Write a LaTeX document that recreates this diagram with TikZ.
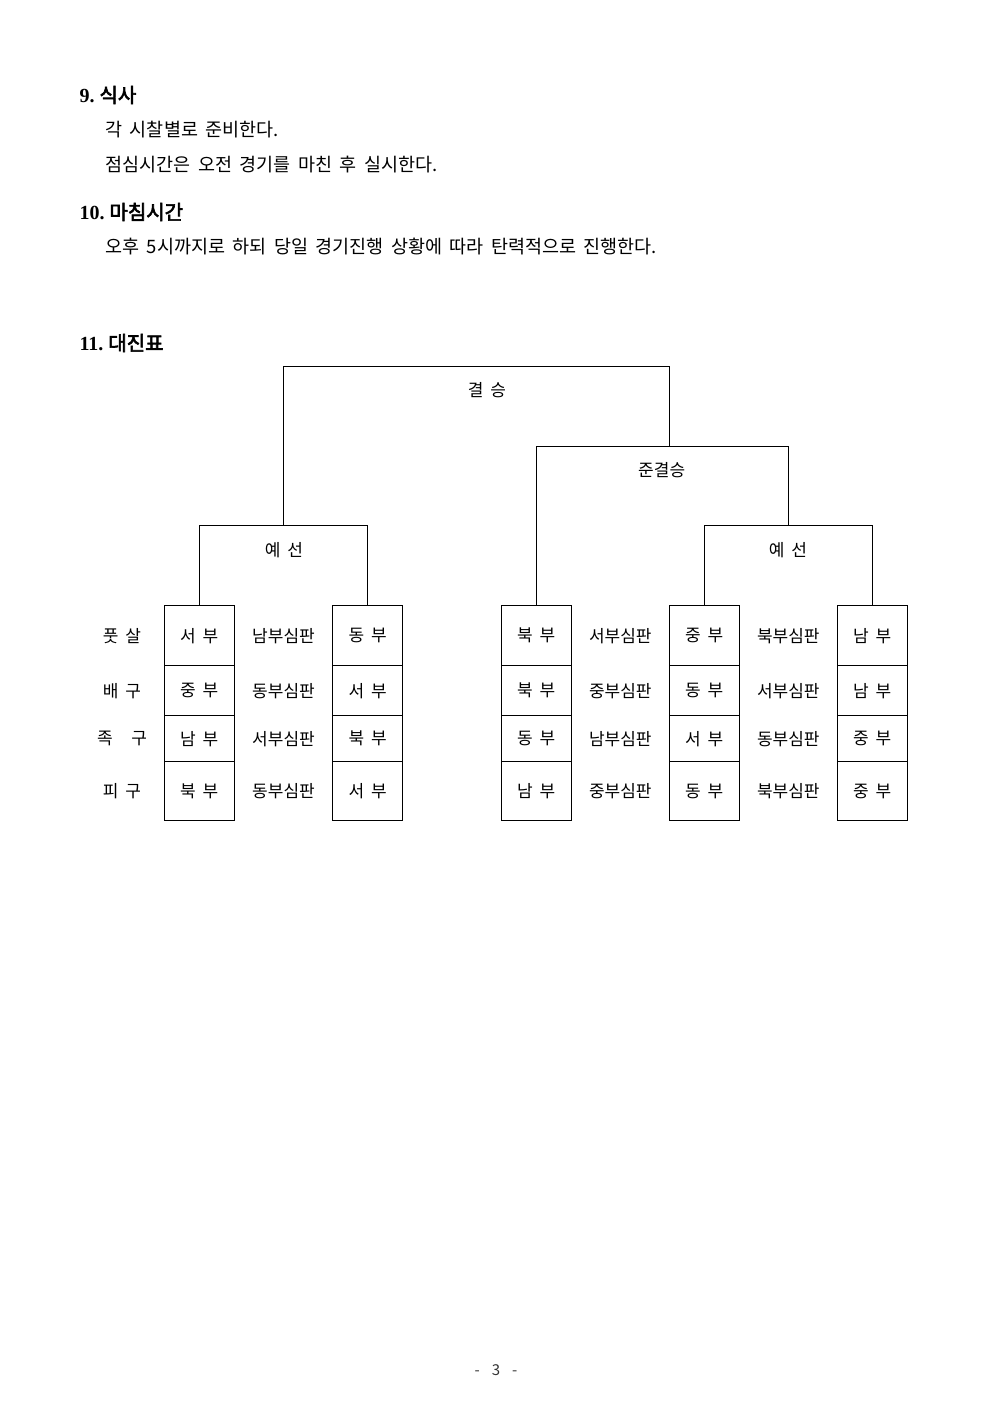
\documentclass[tikz,border=0pt]{standalone}
\usepackage{fontspec}
\setmainfont{Noto Sans CJK KR}[WordSpace=1.8]
\newfontfamily\krbold[FakeBold=3]{Noto Sans CJK KR}
\newfontfamily\numserif{Liberation Serif}
\usetikzlibrary{positioning}
\tikzset{
  every picture/.style={x=1pt, y=-1pt, line width=1pt},
  head/.style={anchor=west, inner sep=0pt, font=\fontsize{20}{24}\selectfont},
  body/.style={anchor=west, inner sep=0pt, font=\fontsize{18.5}{22}\selectfont},
  team/.style={draw, minimum width=70pt, inner sep=0pt, font=\fontsize{17}{20}\selectfont},
  judge/.style={inner sep=0pt, font=\fontsize{17}{20}\selectfont},
  stage/.style={inner sep=0pt, font=\fontsize{17}{20}\selectfont},
}

\begin{document}
\begin{tikzpicture}
  \useasboundingbox (0,0) rectangle (992,1403);
  % section text
  \node[head] (h9) at (79,95) {{\numserif\bfseries 9.}\hspace{0.25em}{\krbold 식사}};
  \node[body] (t9a) at (105,130) {각 시찰별로 준비한다.};
  \node[body] (t9b) at (105,165) {점심시간은 오전 경기를 마친 후 실시한다.};
  \node[head] (h10) at (79,212) {{\numserif\bfseries 10.}\hspace{0.25em}{\krbold 마침시간}};
  \node[body] (t10) at (105,247) {오후 5시까지로 하되 당일 경기진행 상황에 따라 탄력적으로 진행한다.};
  \node[head] (h11) at (79,343) {{\numserif\bfseries 11.}\hspace{0.25em}{\krbold 대진표}};
  % team cells, one row per sport
  \foreach \y/\h/\lab/\ta/\tb/\tc/\td/\te/\ra/\rb/\rc [count=\r] in {
      635.7/60/풋 살/서 부/동 부/북 부/중 부/남 부/남부심판/서부심판/북부심판,
      690.7/50/배 구/중 부/서 부/북 부/동 부/남 부/동부심판/중부심판/서부심판,
      738.7/46/족\hspace{1.1em}구/남 부/북 부/동 부/서 부/중 부/서부심판/남부심판/동부심판,
      791.3/59.3/피 구/북 부/서 부/남 부/동 부/중 부/동부심판/중부심판/북부심판} {
    \node[judge] (s\r) at (122,\y) {\lab};
    \node[team, minimum height=\h] (b1-\r) at (199.3,\y) {\ta};
    \node[team, minimum height=\h] (b2-\r) at (367.8,\y) {\tb};
    \node[team, minimum height=\h] (b3-\r) at (536.3,\y) {\tc};
    \node[team, minimum height=\h] (b4-\r) at (704.3,\y) {\td};
    \node[team, minimum height=\h] (b5-\r) at (872.3,\y) {\te};
    \node[judge] (r1-\r) at (283.5,\y) {\ra};
    \node[judge] (r2-\r) at (620.3,\y) {\rb};
    \node[judge] (r3-\r) at (788.3,\y) {\rc};
  }
  % bracket joints
  \coordinate (j1) at (283.5,525.3);
  \coordinate (j2) at (788.3,525.7);
  \coordinate (j3) at (669.3,446.7);
  \coordinate (fin) at (476,366.7);
  \draw (b1-1.north) |- (j1) -| (b2-1.north);
  \draw (b4-1.north) |- (j2) -| (b5-1.north);
  \draw (b3-1.north) |- (j3) -| (j2);
  \draw (j1) |- (fin) -| (j3);
  \node[stage] (pre1) at (284,550) {예 선};
  \node[stage] (pre2) at (788,550) {예 선};
  \node[stage] (semi) at (661.7,470) {준결승};
  \node[stage] (final) at (487,390) {결 승};
  \node[inner sep=0pt, text=black!80, font=\fontsize{15}{18}\selectfont] (page) at (496,1370) {-\hspace{0.8em}3\hspace{0.8em}-};
\end{tikzpicture}
\end{document}
